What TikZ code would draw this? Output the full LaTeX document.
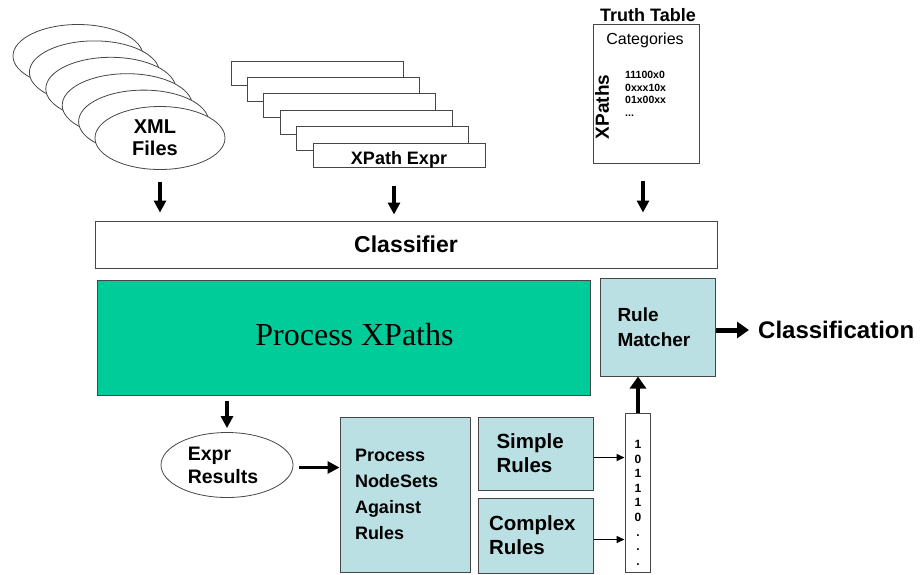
\documentclass[tikz,border=0pt]{standalone}
\usepackage{fontspec}
\setmainfont{Liberation Sans}
\newfontfamily\serifxp{Liberation Serif}
\usetikzlibrary{shapes.geometric,arrows.meta}
\definecolor{tealgreen}{RGB}{0,204,153}
\definecolor{lightblue}{RGB}{187,224,227}
\definecolor{edgegray}{RGB}{70,70,70}
\tikzset{
  fs/.style 2 args={font=\fontsize{#1}{#2}\selectfont\bfseries},
  ell/.style={ellipse, draw=edgegray, fill=white, line width=0.8pt, inner sep=0pt},
  xprect/.style={rectangle, draw=edgegray, fill=white, line width=1pt, minimum width=172pt, minimum height=24pt, inner sep=0pt},
  bluebox/.style={rectangle, draw=edgegray, fill=lightblue, line width=1pt, inner sep=0pt, align=left},
  darr/.style={line width=3.2pt, -{Triangle[length=12pt,width=12pt]}},
  tarr/.style={line width=5pt, -{Triangle[length=12pt,width=16pt]}},
  sarr/.style={line width=1.5pt, -{Triangle[length=8pt,width=7pt]}},
}
\begin{document}
\begin{tikzpicture}[x=1pt,y=-1pt]
\useasboundingbox (0,0) rectangle (923,574);
% XML file ellipses
\foreach \i in {0,...,4}{
  \node[ell, minimum width=130pt, minimum height=63pt] (xml\i) at (78+16.4*\i, 56+16.4*\i) {};
}
\node[ell, minimum width=130pt, minimum height=63pt, fs={20}{24}, align=center] (xml5) at (160,138) {\hspace*{-10pt}XML\\[-2pt]\hspace*{-10pt}Files};
% XPath expression rectangles
\foreach \i in {0,...,4}{
  \node[xprect] (xp\i) at (317+16.4*\i, 73+16.4*\i) {};
}
\node[xprect, fs={18}{22}, text depth=0pt, text height=12pt] (xp5) at (399,155) {\raisebox{-3pt}{XPath Expr}};
% Truth table
\node[fs={18}{22}, inner sep=0pt] (tttitle) at (648,15) {Truth Table};
\node[rectangle, draw=edgegray, fill=white, line width=1pt, minimum width=106pt, minimum height=139pt] (tt) at (646,93.5) {};
\node[font=\fontsize{16}{19}\selectfont, inner sep=0pt] (cat) at (645,40) {Categories};
\node[fs={19}{23}, rotate=90, inner sep=0pt] (xpaths) at (602,107) {XPaths};
\node[font=\fontsize{10.5}{12.5}\selectfont\bfseries, anchor=north west, align=left, inner sep=0pt] (vals) at (625,71) {11100x0\\0xxx10x\\01x00xx\\...};
% Classifier
\node[rectangle, draw=edgegray, fill=white, line width=1pt, minimum width=622pt, minimum height=47pt, fs={23}{27}] (cl) at (406,244.5) {Classifier};
% arrows into classifier
\draw[darr, shorten <=12pt, shorten >=8pt] (xml5.south) -- (xml5.south |- cl.north);
\draw[darr, shorten <=18pt, shorten >=6pt] ([xshift=-5pt]xp5.south) -- ([xshift=-5pt]xp5.south |- cl.north);
\draw[darr, shorten <=17pt, shorten >=8pt] ([xshift=-3pt]tt.south) -- ([xshift=-3pt]tt.south |- cl.north);
% Process XPaths
\node[rectangle, draw=edgegray, fill=tealgreen, line width=1pt, minimum width=493pt, minimum height=115pt, font=\serifxp\fontsize{32}{36}\selectfont] (px) at (343.5,337.5) {\hspace*{22pt}\raisebox{7pt}{Process XPaths}};
% Rule matcher
\node[bluebox, minimum width=115pt, minimum height=98pt, fs={19}{25}, text width=80pt] (rm) at (657.5,327) {Rule\\Matcher};
\node[fs={24}{28}, anchor=west, inner sep=0pt] (cls) at (758,330) {Classification};
\draw[tarr, shorten >=9pt] (rm.east |- cls.west) -- (cls.west);
% Expr results
\node[ell, minimum width=132pt, minimum height=65pt, fs={19.5}{23}, align=left, draw=edgegray] (er) at (227,465) {\hspace*{-8pt}Expr\\\hspace*{-8pt}Results};
\draw[darr, shorten <=5pt, shorten >=4pt] (er.north |- px.south) -- (er.north);
% Process NodeSets
\node[bluebox, minimum width=130pt, minimum height=155pt, fs={18}{26}, text width=100pt] (pn) at (405,494.5) {Process\\NodeSets\\Against\\Rules};
\coordinate (erarr) at ([yshift=27pt]pn.west);
\draw[darr, shorten <=6pt] (er.east |- erarr) -- (erarr);
% Simple / Complex rules
\node[bluebox, minimum width=115pt, minimum height=73pt, fs={20.5}{24}, text width=78pt] (sr) at (535.5,453.5) {Simple\\Rules};
\node[bluebox, minimum width=115pt, minimum height=75pt, fs={20.5}{24}, text width=93pt] (cr) at (535.5,535.5) {Complex\\Rules};
% bit vector
\node[rectangle, draw=edgegray, fill=white, line width=1pt, minimum width=25pt, minimum height=159pt, inner sep=0pt] (bv) at (637.5,492.5) {};
\node[font=\fontsize{12}{14.6}\selectfont\bfseries, align=center, inner sep=0pt, anchor=north] (bits) at (638,440) {1\\0\\1\\1\\1\\0\\.\\.\\.};
\draw[sarr] ([yshift=-4pt]sr.east) -- ([yshift=-4pt]sr.east -| bv.west);
\draw[sarr] ([yshift=-4pt]cr.east) -- ([yshift=-4pt]cr.east -| bv.west);
\draw[tarr, line width=4.5pt] ([xshift=0.5pt]bv.north) -- ([xshift=0.5pt]bv.north |- rm.south);
\end{tikzpicture}
\end{document}
